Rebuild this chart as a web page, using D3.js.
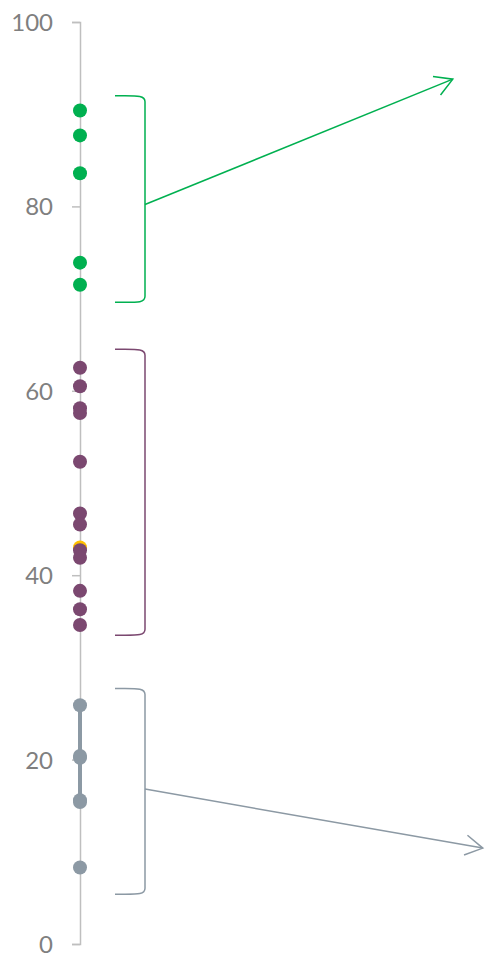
<!DOCTYPE html>
<html>
<head>
<meta charset="utf-8">
<script src="https://cdn.jsdelivr.net/npm/d3@7"></script>
<style>
  body { margin: 0; background: #fff; }
  svg { display: block; }
  .axis text { font-family: Lato, "Liberation Sans", sans-serif; font-size: 24px; fill: #7f7f7f; }
  .axis path, .axis line { stroke: #bfbfbf; stroke-width: 1.5px; }
</style>
</head>
<body>
<svg></svg>
<script>
// values
var greenValues  = [90.4, 87.7, 83.6, 73.9, 71.5];
var purpleValues = [62.5, 60.5, 58.1, 57.6, 52.3, 46.7, 45.5, 42.7, 41.9, 38.3, 36.3, 34.6];
var yellowValues = [43.0];
var greyValues   = [25.9, 20.4, 20.2, 15.6, 15.4, 8.3];
var greyLine     = [25.9, 15.5];
var tickValues   = [0, 20, 40, 60, 80, 100];

// brackets: [top value, bottom value]; arrows: start value on bracket, end as [x unit, y value]
var greenBracket  = [92.0, 69.6];
var purpleBracket = [64.5, 33.5];
var greyBracket   = [27.7, 5.4];
var greenArrowStart = 80.2, greenArrowEnd = [93.2, 93.8];
var greyArrowStart  = 16.8, greyArrowEnd  = [100.7, 10.4];

var colors = {green: "#00b050", purple: "#7b4870", grey: "#8c99a4", yellow: "#ffc000"};

var width = 485, height = 953;

var svg = d3.select("svg")
    .attr("width", width)
    .attr("height", height);

var yScale = d3.scaleLinear().domain([0, 100]).range([944, 22]);
var xScale = d3.scaleLinear().domain([0, 100]).range([80, 480]);

// axis
svg.append("g")
    .attr("class", "axis")
    .attr("transform", "translate(" + xScale(0) + ",0)")
    .call(d3.axisLeft(yScale).tickValues(tickValues).tickSize(8).tickPadding(19).tickSizeOuter(8))
    .call(function(g) { g.selectAll(".tick text").attr("dy", "0.35em"); });

// bracket path
function bracket(range) {
  var x0 = xScale(8.75), x1 = xScale(16.25);
  var top = yScale(range[0]), bot = yScale(range[1]);
  var p = d3.path();
  p.moveTo(x0, top);
  p.bezierCurveTo(x1 - 8, top, x1, top - 1, x1, top + 6);
  p.lineTo(x1, bot - 6);
  p.bezierCurveTo(x1, bot + 1, x1 - 8, bot, x0, bot);
  return p.toString();
}

function arrow(startValue, end, color) {
  var x0 = xScale(16.25), y0 = yScale(startValue), x1 = xScale(end[0]), y1 = yScale(end[1]);
  var a = Math.atan2(y1 - y0, x1 - x0) + Math.PI;
  var len = 20, spread = Math.PI / 6;
  svg.append("line")
      .attr("x1", x0).attr("y1", y0)
      .attr("x2", x1).attr("y2", y1)
      .style("stroke", color)
      .style("stroke-width", 1.5);
  svg.append("path")
      .attr("d", "M" + (x1 + len * Math.cos(a - spread)) + "," + (y1 + len * Math.sin(a - spread)) +
                 "L" + x1 + "," + y1 +
                 "L" + (x1 + len * Math.cos(a + spread)) + "," + (y1 + len * Math.sin(a + spread)))
      .style("fill", "none")
      .style("stroke", color)
      .style("stroke-width", 1.5);
}

[[greenBracket, colors.green], [purpleBracket, colors.purple], [greyBracket, colors.grey]].forEach(function(b) {
  svg.append("path")
      .attr("d", bracket(b[0]))
      .style("fill", "none")
      .style("stroke", b[1])
      .style("stroke-width", 1.5);
});

arrow(greenArrowStart, greenArrowEnd, colors.green);
arrow(greyArrowStart, greyArrowEnd, colors.grey);

// grey connecting line
svg.append("line")
    .attr("x1", xScale(0)).attr("x2", xScale(0))
    .attr("y1", yScale(greyLine[0])).attr("y2", yScale(greyLine[1]))
    .style("stroke", colors.grey)
    .style("stroke-width", 4);

// points
function dots(values, color) {
  svg.append("g").selectAll("circle")
      .data(values)
    .enter().append("circle")
      .attr("cx", xScale(0))
      .attr("cy", function(d) { return yScale(d); })
      .attr("r", 7)
      .style("fill", color);
}

dots(greenValues, colors.green);
dots(yellowValues, colors.yellow);
dots(purpleValues, colors.purple);
dots(greyValues, colors.grey);
</script>
</body>
</html>
